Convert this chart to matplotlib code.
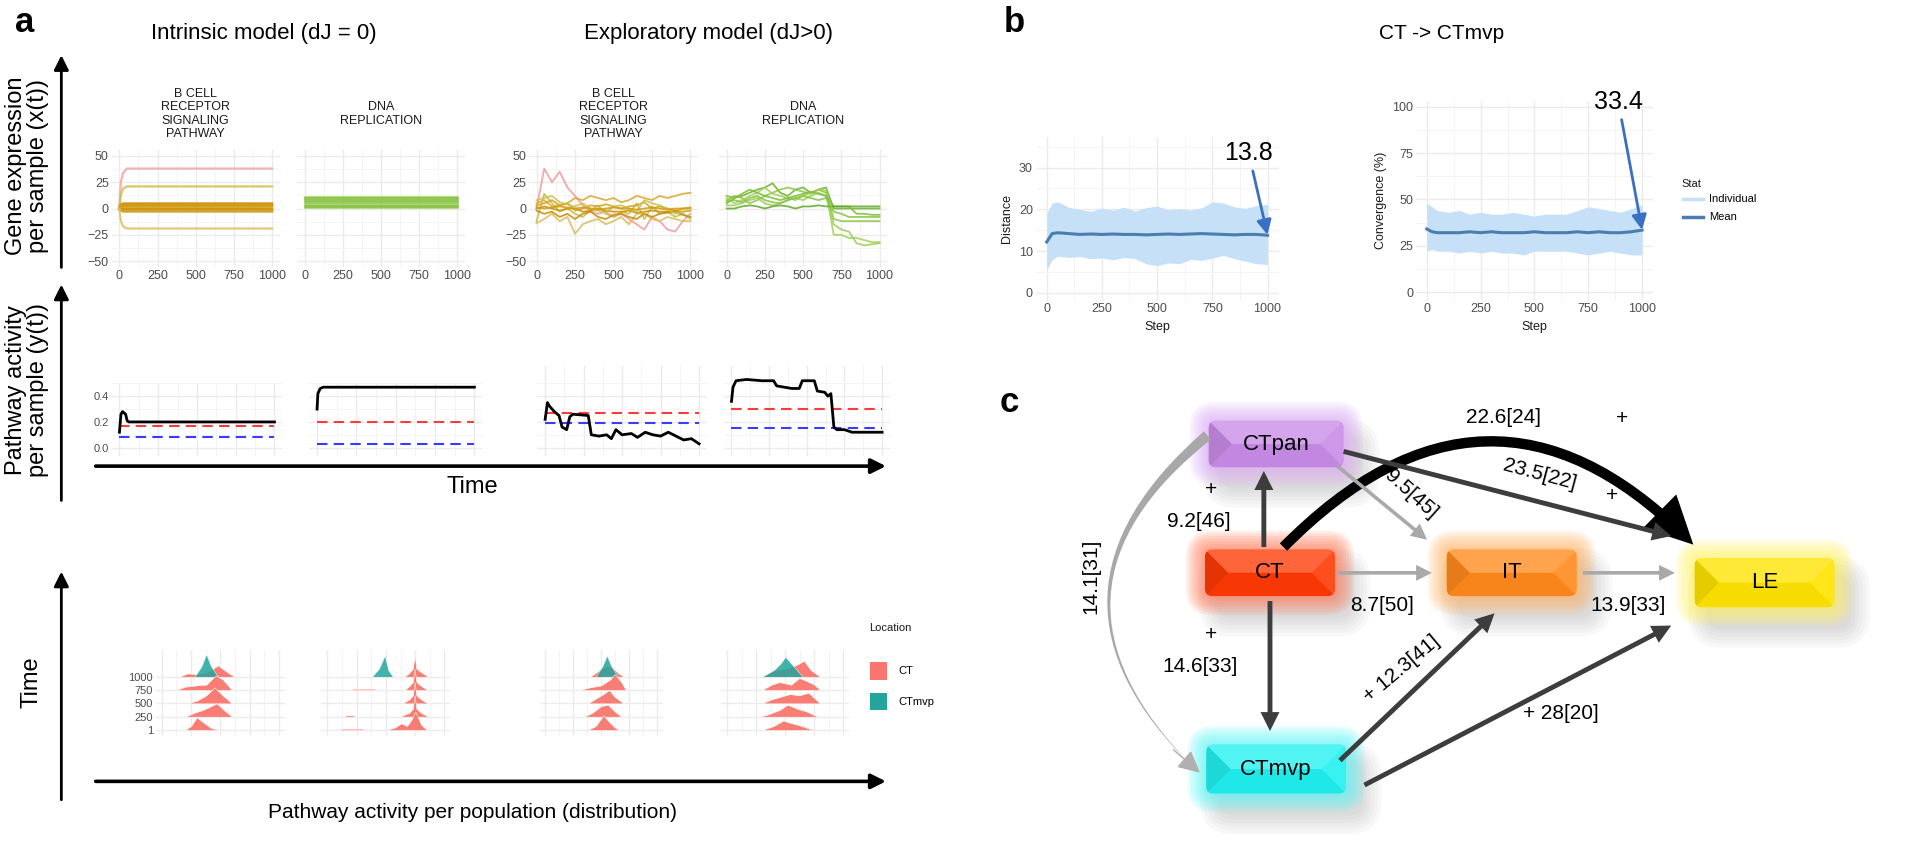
import numpy as np
import matplotlib
matplotlib.use("Agg")
import matplotlib.pyplot as plt
from matplotlib.patches import FancyBboxPatch, FancyArrowPatch, Polygon, Rectangle

plt.rcParams['font.family'] = ['Liberation Sans', 'DejaVu Sans']
narrow = ['Liberation Sans Narrow', 'Liberation Sans', 'DejaVu Sans']

# ---------------- panel a : gene expression per sample ----------------
t_rise = [0, 10, 25, 50, 1000]
bcell_intr = [
    [0, 25, 34, 38, 38],
    [0, 13, 19, 21, 21],
    [0, 4, 5, 5, 5],
    [0, 3, 4, 4, 4],
    [0, 2, 3, 3, 3],
    [0, 1, 2, 2, 2],
    [0, 1, 1, 1, 1],
    [0, 0, 0, 0, 0],
    [0, -1, -1, -1, -1],
    [0, -1, -2, -2, -2],
    [0, -2, -3, -3, -3],
    [0, -12, -17, -19, -19],
]
bcell_intr_col = ['#f4a3a3', '#c8c24c', '#d49b12', '#c98a08', '#d6a21a', '#cc9000',
                  '#d8a830', '#c48600', '#d49b12', '#cc9a20', '#d0a02a', '#dcc060']
t_flat = [0, 1000]
dna_intr = [[11, 11], [10, 10], [9, 9], [8, 8], [6, 6], [4, 4], [2, 2], [1, 1]]
dna_intr_col = ['#8dc63f', '#7dba3a', '#9ccf55', '#86c247', '#7cbd35', '#95cc4f', '#6fb030', '#8dc63f']

t_exp = [0, 50, 100, 150, 200, 250, 300, 350, 400, 450, 500,
         550, 600, 650, 700, 750, 800, 850, 900, 950, 1000]
bcell_exp = [
    [0, 38, 25, 35, 20, 12, 3, -2, -5, -3, -8, -5, -10, -15, -20, -8, -12, -20, -22, -12, -5],
    [5, 8, 2, 3, 5, 10, 8, 12, 10, 8, 10, 6, 8, 12, 10, 8, 12, 10, 12, 14, 15],
    [-12, 14, 5, -3, 0, -5, -8, -2, 3, -5, -8, -3, -5, 5, -10, 2, -5, -3, -8, -5, -10],
    [-14, -10, -5, -12, -8, -24, -15, -12, -10, -15, -12, -8, -15, -5, -5, -10, -12, -8, -10, -12, -12],
    [0, 2, 0, -2, 0, 0, -3, -2, 0, -2, -3, -3, -2, -4, -3, -2, -3, -3, -2, -3, -2],
    [3, 5, 8, 3, 5, -2, 0, 3, 2, 4, 2, 0, 2, 3, 6, 0, 2, 0, -2, 0, 0],
    [-2, -5, -3, -8, -5, -10, -5, -3, -8, -10, -6, -5, -8, -10, -5, -8, -5, -4, -3, -6, -8],
    [8, 10, 12, 6, 4, 2, 5, 0, -2, -4, 2, 3, 0, -3, 8, 5, 3, 0, -5, -3, -2],
    [1, 0, 1, 2, 1, 0, 1, 0, -1, 0, 1, 0, 0, -1, 0, 1, 0, -1, 0, 0, 1],
]
bcell_exp_col = ['#f29a9a', '#d9a630', '#c2be48', '#d8bc58', '#cc9000', '#d6a21a', '#c98a08', '#c8c24c', '#d49b12']
dna_exp = [
    [5, 10, 12, 15, 18, 20, 24, 15, 12, 18, 20, 15, 18, 20, 0, 0, 0, 0, 0, 0, 0],
    [8, 12, 10, 5, 8, 12, 15, 18, 20, 18, 16, 14, 18, 15, -10, -12, -12, -12, -12, -12, -12],
    [10, 5, 8, 12, 15, 20, 14, 12, 10, 8, 12, 15, 18, 17, -25, -25, -28, -28, -30, -32, -32],
    [3, 3, 5, 8, 10, 5, 3, 5, 8, 10, 8, 12, 15, 12, -15, -20, -22, -33, -35, -34, -33],
    [12, 10, 14, 18, 15, 12, 10, 8, 10, 12, 14, 16, 14, 12, 2, 2, 2, -5, -5, -6, -6],
    [0, 0, 2, 3, 2, 0, 2, 3, 2, 0, 2, 2, 3, 2, 2, 2, 2, 2, 2, 2, 2],
    [7, 8, 6, 10, 12, 8, 6, 5, 8, 10, 12, 10, 8, 10, -3, -5, -8, -8, -8, -8, -8],
]
dna_exp_col = ['#6fb030', '#8dc63f', '#a2cf5a', '#9ccf55', '#7cbd35', '#5fa828', '#86c247']

# ---------------- panel a : pathway activity per sample ----------------
act_t1 = [0, 10, 20, 40, 50, 60, 1000]
act_y1 = [0.12, 0.26, 0.28, 0.26, 0.21, 0.2, 0.2]
act_t2 = [0, 5, 20, 40, 1000]
act_y2 = [0.3, 0.42, 0.46, 0.47, 0.47]
act_t3 = [0, 15, 30, 60, 90, 110, 140, 160, 180, 280, 300, 350, 400, 430, 460, 500,
          560, 600, 650, 700, 750, 800, 850, 900, 950, 1000]
act_y3 = [0.22, 0.35, 0.32, 0.28, 0.25, 0.16, 0.14, 0.24, 0.26, 0.25, 0.1, 0.09, 0.1, 0.07, 0.14, 0.1,
          0.11, 0.08, 0.12, 0.1, 0.09, 0.12, 0.09, 0.06, 0.07, 0.03]
act_t4 = [0, 10, 30, 100, 200, 280, 300, 350, 400, 450, 470, 550, 570, 620, 640, 660,
          680, 700, 750, 800, 900, 1000]
act_y4 = [0.36, 0.47, 0.52, 0.53, 0.52, 0.52, 0.48, 0.47, 0.46, 0.46, 0.52, 0.52, 0.44, 0.43, 0.40, 0.42,
          0.16, 0.14, 0.14, 0.12, 0.12, 0.12]
ref_red = [0.17, 0.2, 0.27, 0.3]
ref_blue = [0.08, 0.03, 0.19, 0.15]

# ---------------- panel a : distributions per population ----------------
time_labels = ['1', '250', '500', '750', '1000']
# each ridge: (row, x positions, density heights)
ridges_ct = [
    [(0, [0.2, 0.25, 0.3, 0.35, 0.42, 0.5], [0, 0.3, 0.95, 0.6, 0.15, 0]),
     (1, [0.2, 0.28, 0.35, 0.4, 0.47, 0.53, 0.6], [0, 0.3, 0.5, 0.7, 1.0, 0.5, 0]),
     (2, [0.22, 0.3, 0.38, 0.45, 0.52, 0.6], [0, 0.2, 0.6, 1.2, 0.6, 0]),
     (3, [0.12, 0.2, 0.3, 0.38, 0.46, 0.52, 0.6], [0, 0.25, 0.35, 0.4, 1.1, 0.8, 0]),
     (4, [0.15, 0.22, 0.3, 0.36, 0.42, 0.48, 0.55, 0.62], [0, 0.25, 0.2, 0.3, 0.5, 0.85, 0.4, 0])],
    [(0, [0.5, 0.58, 0.63, 0.68, 0.72, 0.75, 0.8, 0.85], [0, 0.2, 0.5, 0.3, 0.8, 1.4, 0.4, 0]),
     (0, [0.1, 0.12, 0.3, 0.32], [0, 0.1, 0.1, 0]),
     (1, [0.62, 0.7, 0.73, 0.745, 0.76, 0.8, 0.86], [0, 0.3, 0.6, 1.6, 0.6, 0.3, 0]),
     (1, [0.14, 0.16, 0.22, 0.24], [0, 0.1, 0.1, 0]),
     (2, [0.64, 0.7, 0.73, 0.745, 0.76, 0.8, 0.86], [0, 0.3, 0.6, 1.6, 0.6, 0.3, 0]),
     (3, [0.66, 0.7, 0.73, 0.745, 0.76, 0.8, 0.86], [0, 0.3, 0.6, 1.6, 0.6, 0.3, 0]),
     (3, [0.2, 0.22, 0.4, 0.42], [0, 0.1, 0.1, 0]),
     (4, [0.66, 0.7, 0.73, 0.745, 0.76, 0.8, 0.86], [0, 0.3, 0.6, 1.6, 0.6, 0.35, 0])],
    [(0, [0.38, 0.45, 0.52, 0.56, 0.62, 0.66], [0, 0.3, 1.1, 0.7, 0.2, 0]),
     (1, [0.35, 0.42, 0.5, 0.56, 0.62, 0.68], [0, 0.3, 0.8, 0.9, 0.4, 0]),
     (2, [0.38, 0.46, 0.52, 0.57, 0.62, 0.7], [0, 0.4, 0.7, 1.0, 0.5, 0]),
     (3, [0.3, 0.4, 0.5, 0.58, 0.62, 0.68, 0.72], [0, 0.2, 0.35, 0.8, 1.2, 0.6, 0]),
     (4, [0.4, 0.45, 0.5, 0.55, 0.6, 0.65, 0.7], [0, 0.3, 0.6, 0.8, 0.7, 0.3, 0])],
    [(0, [0.3, 0.4, 0.48, 0.56, 0.64, 0.74], [0, 0.3, 0.7, 0.5, 0.3, 0]),
     (1, [0.28, 0.36, 0.45, 0.52, 0.6, 0.68, 0.78], [0, 0.2, 0.5, 0.9, 0.6, 0.4, 0]),
     (2, [0.3, 0.38, 0.46, 0.54, 0.62, 0.7, 0.8], [0, 0.3, 0.5, 0.7, 0.6, 0.8, 0]),
     (3, [0.3, 0.38, 0.45, 0.55, 0.62, 0.68, 0.75, 0.8], [0, 0.4, 0.6, 0.4, 0.9, 0.7, 0.4, 0]),
     (4, [0.3, 0.4, 0.5, 0.6, 0.66, 0.72, 0.8], [0, 0.5, 0.6, 0.9, 1.2, 0.5, 0])],
]
ridges_mvp = [
    ([0.28, 0.34, 0.38, 0.42, 0.48], [0, 0.8, 1.7, 0.8, 0]),
    ([0.38, 0.44, 0.49, 0.52, 0.56], [0, 0.6, 1.6, 0.5, 0]),
    ([0.45, 0.51, 0.55, 0.59, 0.65], [0, 0.8, 1.6, 0.8, 0]),
    ([0.3, 0.4, 0.46, 0.5, 0.56, 0.65], [0, 0.5, 1.0, 1.5, 0.9, 0]),
]

# ---------------- panel b : CT -> CTmvp ----------------
step = [0, 25, 50, 100, 150, 200, 250, 300, 350, 400, 450, 500,
        550, 600, 650, 700, 750, 800, 850, 900, 950, 1000]
dist_upper = [19.0, 21.5, 21.8, 20.5, 20.0, 19.5, 20.3, 19.8, 20.5, 19.6, 20.4, 20.8,
              19.9, 20.1, 19.8, 20.3, 21.8, 21.5, 20.6, 20.2, 20.9, 21.2]
dist_lower = [5.5, 8.0, 8.8, 8.5, 8.7, 8.2, 8.4, 7.9, 8.5, 8.2, 7.0, 6.5,
              7.2, 7.0, 8.0, 7.8, 8.3, 9.0, 8.2, 7.6, 7.0, 6.8]
dist_mean = [12.2, 14.2, 14.4, 14.2, 14.0, 14.1, 14.0, 14.1, 14.0, 14.0, 13.9, 14.0,
             14.1, 14.0, 14.1, 14.2, 14.1, 14.0, 13.9, 14.0, 14.0, 13.8]
conv_upper = [48, 46, 44, 43, 44, 42, 43, 42, 42, 43, 42, 41, 42, 42, 42, 44, 46, 45, 44, 43, 45, 47]
conv_lower = [22, 23, 22, 22, 21, 22, 21, 22, 21, 21, 20, 22, 22, 22, 22, 21, 20, 21, 22, 21, 20, 20]
conv_mean = [34.0, 32.5, 32.0, 32.0, 32.0, 32.5, 32.0, 32.5, 32.0, 32.0, 32.0, 32.5,
             32.0, 32.0, 32.0, 32.5, 32.0, 32.5, 32.0, 32.0, 32.5, 33.4]

# ---------------- panel c : transitions ----------------
nodes = ['CTpan', 'CT', 'IT', 'LE', 'CTmvp']
edge_labels = ['9.2[46]', '22.6[24]', '23.5[22]', '9.5[45]', '8.7[50]',
               '13.9[33]', '14.6[33]', '+ 12.3[41]', '+ 28[20]', '14.1[31]']

W, H = 1568, 706
fig = plt.figure(figsize=(19.24, 8.66), dpi=100)


def add_ax(x0, y0, x1, y1):
    return fig.add_axes([x0 / W, 1 - y1 / H, (x1 - x0) / W, (y1 - y0) / H])


def gg(ax, xt, yt, xm, ym, xlim, ylim, size=9):
    ax.set_xlim(xlim)
    ax.set_ylim(ylim)
    ax.set_xticks(xt)
    ax.set_yticks(yt)
    ax.set_xticks(xm, minor=True)
    ax.set_yticks(ym, minor=True)
    ax.grid(True, which='major', color='#ebebeb', lw=1.0)
    ax.grid(True, which='minor', color='#f3f3f3', lw=0.6)
    ax.set_axisbelow(True)
    for s in ax.spines.values():
        s.set_visible(False)
    ax.tick_params(which='both', length=0, labelsize=size, labelcolor='#4d4d4d', pad=2)


xt = [0, 250, 500, 750, 1000]
xm = [125, 375, 625, 875]

# gene expression panels
gene_boxes = [(91, 122, 228, 218), (242, 122, 379, 218), (431, 122, 569, 218), (586, 122, 723, 218)]
strip = ['B CELL\nRECEPTOR\nSIGNALING\nPATHWAY', 'DNA\nREPLICATION'] * 2
for i, b in enumerate(gene_boxes):
    ax = add_ax(*b)
    gg(ax, xt, [-50, -25, 0, 25, 50], xm, [-37.5, -12.5, 12.5, 37.5], (-50, 1050), (-56, 56))
    for lab in ax.get_xticklabels() + ax.get_yticklabels():
        lab.set_family(narrow)
    if i % 2 == 1:
        ax.set_yticklabels([])
    ax.set_xticklabels(['0', '250', '500', '750', '1000'])
    ax.text(0.5, 1.0 + 29 / 96, strip[i], transform=ax.transAxes, ha='center', va='center',
            fontsize=9, family=narrow, linespacing=1.15, color='#1a1a1a')
    if i == 0:
        for ys, c in zip(bcell_intr, bcell_intr_col):
            ax.plot(t_rise, ys, color=c, lw=1.6, alpha=0.85)
    elif i == 1:
        for ys, c in zip(dna_intr, dna_intr_col):
            ax.plot(t_flat, ys, color=c, lw=1.8, alpha=0.8)
    elif i == 2:
        for ys, c in zip(bcell_exp, bcell_exp_col):
            ax.plot(t_exp, ys, color=c, lw=1.3, alpha=0.85)
    else:
        for ys, c in zip(dna_exp, dna_exp_col):
            ax.plot(t_exp, ys, color=c, lw=1.3, alpha=0.85)

# pathway activity panels
act_boxes = [(91, 312, 230, 372), (252, 312, 393, 372), (438, 298, 576, 372), (590, 298, 725, 372)]
act_t = [act_t1, act_t2, act_t3, act_t4]
act_y = [act_y1, act_y2, act_y3, act_y4]
for i, b in enumerate(act_boxes):
    ax = add_ax(*b)
    top = (365 - b[1]) / 105
    gg(ax, xt, [0.0, 0.2, 0.4], xm, [0.1, 0.3, 0.5], (-50, 1050), (-0.067, top), size=8)
    ax.set_xticklabels([])
    if i == 0:
        ax.set_yticklabels(['0.0', '0.2', '0.4'])
        for lab in ax.get_yticklabels():
            lab.set_family(narrow)
    else:
        ax.set_yticklabels([])
    ax.plot([0, 1000], [ref_red[i]] * 2, color='#ff3b3b', lw=1.5, ls=(0, (5, 3)))
    ax.plot([0, 1000], [ref_blue[i]] * 2, color='#3b3bff', lw=1.5, ls=(0, (5, 3)))
    ax.plot(act_t[i], act_y[i], color='black', lw=2.0)

# ridge panels
ridge_boxes = [(127, 530, 232, 600), (262, 530, 367, 600), (440, 530, 540, 600), (588, 530, 692, 600)]
for i, b in enumerate(ridge_boxes):
    ax = add_ax(*b)
    gg(ax, [0.0, 0.25, 0.5, 0.75, 1.0], [0, 1, 2, 3, 4], [0.125, 0.375, 0.625, 0.875], [],
       (-0.05, 1.05), (-0.45, 6.0), size=8)
    ax.set_xticklabels([])
    if i == 0:
        ax.set_yticklabels(time_labels)
        for lab in ax.get_yticklabels():
            lab.set_family(narrow)
    else:
        ax.set_yticklabels([])
    rows = sorted(ridges_ct[i], key=lambda r: -r[0])
    for row, xs, hs in rows:
        z = 10 - row
        ax.fill_between(xs, row, np.array(hs) + row, color='#f8766d', alpha=0.95, lw=0.4,
                        edgecolor='white', zorder=z)
        if row == 4:
            mx, mh = ridges_mvp[i]
            ax.fill_between(mx, 4, np.array(mh) + 4, color='#22a59d', alpha=0.85, lw=0.4,
                            edgecolor='white', zorder=z + 0.5)

# ---------------- panel b axes ----------------
axd = add_ax(844, 112, 1042, 245)
gg(axd, xt, [0, 10, 20, 30], xm, [5, 15, 25, 35], (-50, 1050), (-1.8, 37.2), size=9)
axd.fill_between(step, dist_lower, dist_upper, color='#c6e0f8', lw=0)
axd.plot(step, dist_mean, color='#4a7db0', lw=2.2)
axd.set_xlabel('Step', fontsize=9, color='#1a1a1a', labelpad=4)
axd.set_ylabel('Distance', fontsize=9, color='#1a1a1a', labelpad=4)
axd.annotate('13.8', xy=(1000, 13.9), xytext=(915, 30.5), fontsize=18, ha='center', va='bottom',
             arrowprops=dict(arrowstyle='-|>', color='#3a6fc6', lw=2, mutation_scale=22, shrinkA=2, shrinkB=0))

axc = add_ax(1154, 82, 1347, 245)
gg(axc, xt, [0, 25, 50, 75, 100], xm, [12.5, 37.5, 62.5, 87.5], (-50, 1050), (-4.6, 103.3), size=9)
axc.fill_between(step, conv_lower, conv_upper, color='#c6e0f8', lw=0)
axc.plot(step, conv_mean, color='#4a7db0', lw=2.2)
axc.set_xlabel('Step', fontsize=9, color='#1a1a1a', labelpad=4)
axc.set_ylabel('Convergence (%)', fontsize=9, color='#1a1a1a', labelpad=4)
axc.annotate('33.4', xy=(1000, 33.6), xytext=(890, 96), fontsize=18, ha='center', va='bottom',
             arrowprops=dict(arrowstyle='-|>', color='#3a6fc6', lw=2, mutation_scale=22, shrinkA=2, shrinkB=0))

# ---------------- overlay: arrows, labels, panel c ----------------
ov = fig.add_axes([0, 0, 1, 1], zorder=10)
ov.set_xlim(0, W)
ov.set_ylim(H, 0)
ov.axis('off')
ov.patch.set_alpha(0)

for lab, x, y in [('a', 12, 18), ('b', 818, 18), ('c', 815, 328)]:
    ov.text(x, y, lab, fontsize=25, fontweight='bold', ha='left', va='center')
ov.text(215, 27, 'Intrinsic model (dJ = 0)', fontsize=16, ha='center', va='center', family=narrow)
ov.text(577, 27, 'Exploratory model (dJ>0)', fontsize=16, ha='center', va='center', family=narrow)
ov.text(1175, 27, 'CT -> CTmvp', fontsize=15, ha='center', va='center')

for y0, y1 in [(218, 45), (408, 232), (652, 466)]:
    ov.annotate('', xy=(50, y1), xytext=(50, y0),
                arrowprops=dict(arrowstyle='-|>', color='black', lw=2, mutation_scale=22, shrinkA=0, shrinkB=0))
for y in [380, 637]:
    ov.annotate('', xy=(722, y), xytext=(78, y),
                arrowprops=dict(arrowstyle='-|>', color='black', lw=2.6, mutation_scale=22, shrinkA=0, shrinkB=0))
ov.text(22, 135, 'Gene expression\nper sample (x(t))', rotation=90, fontsize=17, ha='center', va='center',
        linespacing=1.05)
ov.text(22, 318, 'Pathway activity\nper sample (y(t))', rotation=90, fontsize=17, ha='center', va='center',
        linespacing=1.05)
ov.text(26, 556, 'Time', rotation=90, fontsize=17, ha='center', va='center')
ov.text(385, 397, 'Time', fontsize=17, ha='center', va='center', family=narrow)
ov.text(385, 662, 'Pathway activity per population (distribution)', fontsize=15, ha='center', va='center')

# ridge legend
ov.text(708, 512, 'Location', fontsize=8, ha='left', va='center', color='#1a1a1a')
ov.add_patch(Rectangle((709, 540), 14, 14, fc='#f8766d', ec='none'))
ov.add_patch(Rectangle((709, 565), 14, 14, fc='#22a59d', ec='none'))
ov.text(732, 547, 'CT', fontsize=8, ha='left', va='center')
ov.text(732, 572, 'CTmvp', fontsize=8, ha='left', va='center')

# panel b legend
ov.text(1370, 150, 'Stat', fontsize=8, ha='left', va='center', color='#1a1a1a')
ov.plot([1372, 1388], [162, 162], color='#c6e0f8', lw=2.5)
ov.plot([1372, 1388], [177, 177], color='#4a7db0', lw=2.5)
ov.text(1393, 162, 'Individual', fontsize=8, ha='left', va='center')
ov.text(1393, 177, 'Mean', fontsize=8, ha='left', va='center')

# panel c boxes
layout = {
    'CTpan': (1040, 362, 110, 38, '#c98ce8', '#dba8f6'),
    'CT': (1035, 467, 106, 38, '#ff3a05', '#ff7550'),
    'IT': (1232, 467, 106, 38, '#ff8a1c', '#ffb060'),
    'LE': (1438, 475, 114, 40, '#ffe400', '#fff25a'),
    'CTmvp': (1040, 627, 114, 40, '#22f0f0', '#55f7f7'),
}


def draw_box(name):
    cx, cy, w, h, face, glow = layout[name]
    x0, y0 = cx - w / 2, cy - h / 2
    # soft drop shadow
    for k in range(6):
        pad = 2 + 3 * k
        ov.add_patch(FancyBboxPatch((x0 + 12, y0 + 16), w, h,
                                    boxstyle='round,pad=%d,rounding_size=%d' % (pad, pad + 10),
                                    fc='#707070', ec='none', alpha=0.045, zorder=1))
    # coloured glow
    for k in range(7, 0, -1):
        pad = k * 2.2
        ov.add_patch(FancyBboxPatch((x0, y0), w, h, boxstyle='round,pad=%g,rounding_size=%g' % (pad, pad + 6),
                                    fc=glow, ec='none', alpha=0.13, zorder=2))
    main = FancyBboxPatch((x0, y0), w, h, boxstyle='round,pad=0,rounding_size=6', fc=face, ec='none', zorder=3)
    ov.add_patch(main)
    b = h / 2
    shades = [([(x0, y0), (x0 + w, y0), (x0 + w - b, cy), (x0 + b, cy)], 'white', 0.22),
              ([(x0, y0), (x0 + b, cy), (x0, y0 + h)], 'black', 0.10),
              ([(x0 + w, y0), (x0 + w - b, cy), (x0 + w, y0 + h)], 'white', 0.10),
              ([(x0, y0 + h), (x0 + b, cy), (x0 + w - b, cy), (x0 + w, y0 + h)], 'black', 0.03)]
    for pts, c, a in shades:
        p = Polygon(pts, closed=True, fc=c, ec='none', alpha=a, zorder=4)
        ov.add_patch(p)
        p.set_clip_path(main)
    ov.text(cx, cy, name, fontsize=16, ha='center', va='center', zorder=6)


for n in nodes:
    draw_box(n)


def arrow(p0, p1, color, lw, ms, rad=0.0, z=5):
    ov.add_patch(FancyArrowPatch(p0, p1, arrowstyle='-|>', mutation_scale=ms, lw=lw, color=color,
                                 connectionstyle='arc3,rad=%g' % rad, shrinkA=0, shrinkB=0, zorder=z,
                                 joinstyle='miter', capstyle='butt'))


dark, light = '#3d3d3d', '#a9a9a9'
arrow((1030, 446), (1030, 384), dark, 3.5, 20)
arrow((1046, 446), (1380, 444), 'black', 7.5, 55, rad=-0.5)
arrow((1095, 368), (1362, 437), dark, 3.5, 20)
arrow((1090, 380), (1163, 440), light, 2.6, 18)
arrow((1090, 467), (1167, 467), light, 2.6, 18)
arrow((1290, 467), (1365, 467), light, 2.6, 18)
arrow((1035, 490), (1035, 596), dark, 3.5, 20)
arrow((1092, 620), (1218, 500), dark, 3.5, 20)
arrow((1112, 640), (1362, 510), dark, 3.5, 20)
ov.add_patch(FancyArrowPatch((984, 355), (972, 625), arrowstyle='wedge,tail_width=0.35,shrink_factor=0.3',
                             mutation_scale=22, fc='#a8a8a8', ec='none',
                             connectionstyle='arc3,rad=0.55', shrinkA=0, shrinkB=0, zorder=5))
arrow((956, 611), (978, 630), '#b0b0b0', 1.0, 34)

lab_pos = [
    (977, 425, 0), (1225, 340, 0), (1255, 387, -15), (1150, 403, -42), (1126, 494, 0),
    (1327, 494, 0), (978, 543, 0), (1142, 545, 40), (1272, 582, 0), (889, 470, 90),
]
for txt, (x, y, r) in zip(edge_labels, lab_pos):
    ov.text(x, y, txt, fontsize=15, ha='center', va='center', rotation=r, rotation_mode='anchor', zorder=7)
for x, y in [(987, 399), (1322, 341), (1314, 404), (987, 517)]:
    ov.text(x, y, '+', fontsize=15, ha='center', va='center', zorder=7)

fig.savefig('out.png', dpi=100)
